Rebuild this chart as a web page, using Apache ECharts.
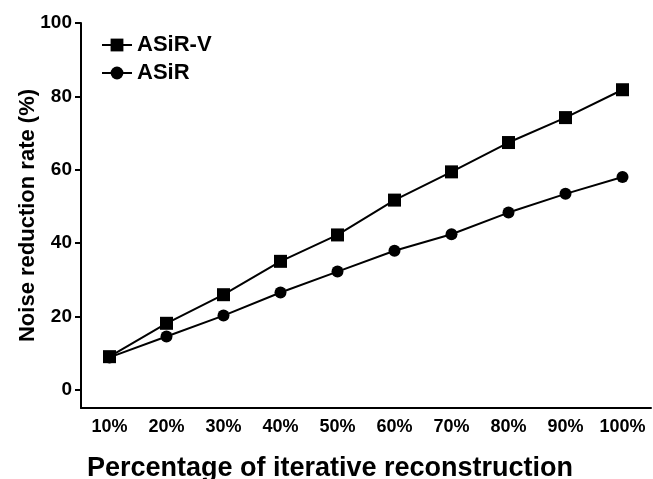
<!DOCTYPE html>
<html>
<head>
<meta charset="utf-8">
<script src="https://cdn.jsdelivr.net/npm/echarts@6/dist/echarts.min.js"></script>
<style>
html,body{margin:0;padding:0;background:#fff;}
#chart{width:653px;height:479px;}
</style>
</head>
<body>
<div id="chart"></div>
<script>
var categories = ['10%','20%','30%','40%','50%','60%','70%','80%','90%','100%'];
var asirV = [9.0, 18.1, 25.9, 35.0, 42.2, 51.7, 59.4, 67.4, 74.2, 81.8];
var asir = [8.8, 14.5, 20.2, 26.5, 32.2, 37.9, 42.4, 48.3, 53.4, 58.0];
var yTicks = [0, 20, 40, 60, 80, 100];

var font = 'Liberation Sans, Arial, sans-serif';
var chart = echarts.init(document.getElementById('chart'));
chart.setOption({
  animation: false,
  backgroundColor: '#fff',
  grid: {left: 81, right: 2, top: 23, bottom: 71, containLabel: false, outerBoundsMode: 'none'},
  legend: {
    orient: 'vertical', left: 96, top: 29, itemGap: 6,
    itemWidth: 30, itemHeight: 16,
    textStyle: {fontFamily: font, fontWeight: 'bold', fontSize: 22, color: '#000'},
    data: ['ASiR-V', 'ASiR']
  },
  xAxis: {
    type: 'category', data: categories, boundaryGap: true,
    name: 'Percentage of iterative reconstruction', nameLocation: 'middle', nameGap: 47,
    nameMoveOverlap: false,
    nameTextStyle: {fontFamily: font, fontWeight: 'bold', fontSize: 27, color: '#000', padding: [0, 72, 0, 0]},
    axisLine: {onZero: false, lineStyle: {color: '#000', width: 2}},
    axisTick: {alignWithLabel: true, length: 6, interval: 0, lineStyle: {color: '#000', width: 2}},
    axisLabel: {fontFamily: font, fontWeight: 'bold', fontSize: 18, color: '#000', margin: 10, interval: 0},
    splitLine: {show: false}
  },
  yAxis: {
    type: 'value', min: -5, max: 100,
    name: 'Noise reduction rate (%)', nameLocation: 'middle', nameGap: 42,
    nameMoveOverlap: false,
    nameTextStyle: {fontFamily: font, fontWeight: 'bold', fontSize: 22, color: '#000'},
    axisLine: {show: true, lineStyle: {color: '#000', width: 2}},
    axisTick: {show: true, length: 6, customValues: yTicks, lineStyle: {color: '#000', width: 2}},
    axisLabel: {fontFamily: font, fontWeight: 'bold', fontSize: 19, color: '#000', margin: 9, customValues: yTicks},
    splitLine: {show: false}
  },
  series: [
    {
      name: 'ASiR-V', type: 'line', data: asirV,
      symbol: 'rect', symbolSize: 13,
      itemStyle: {color: '#000'},
      lineStyle: {color: '#000', width: 2}
    },
    {
      name: 'ASiR', type: 'line', data: asir,
      symbol: 'circle', symbolSize: 12,
      itemStyle: {color: '#000'},
      lineStyle: {color: '#000', width: 2}
    }
  ]
});
</script>
</body>
</html>
